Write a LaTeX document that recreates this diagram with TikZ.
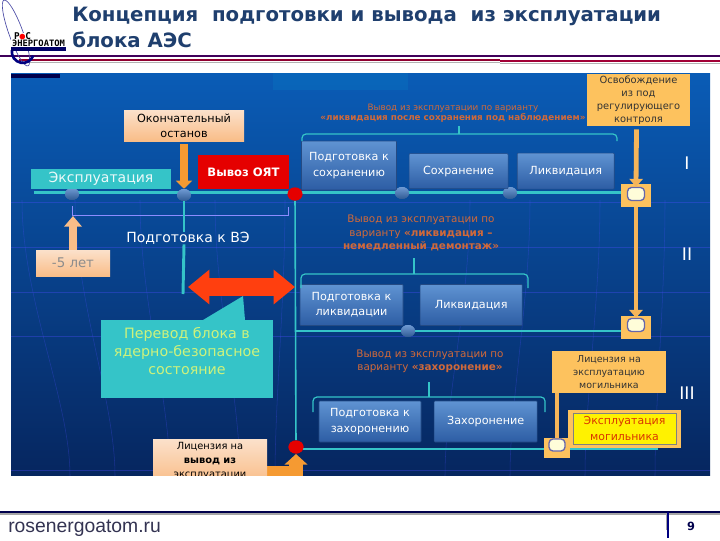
\documentclass[tikz,border=0pt]{standalone}
\usepackage{fontspec}
\usepackage{xcolor}
\setmainfont{DejaVu Sans}
\newfontfamily\footfont{Liberation Sans}
\newfontfamily\logofont{DejaVu Sans Mono}
\usetikzlibrary{arrows.meta,positioning,shapes.geometric}
\definecolor{titleblue}{HTML}{1F3F6E}
\definecolor{tealbar}{HTML}{35C4C8}
\definecolor{peach}{HTML}{F8C8A0}
\definecolor{amberbox}{HTML}{FDC25E}
\definecolor{amberline}{HTML}{F5B55A}
\definecolor{rust}{HTML}{D0693A}
\definecolor{limetext}{HTML}{CDF27C}
\definecolor{orangearr}{HTML}{F59A32}
\definecolor{paneltop}{HTML}{0A5CB6}
\definecolor{panelmid}{HTML}{0A4792}
\definecolor{panelbot}{HTML}{06265F}
\definecolor{stagetop}{HTML}{5F93D2}
\definecolor{stagemid}{HTML}{3F76BC}
\definecolor{stagebot}{HTML}{2D5DA4}
\definecolor{dotblue}{HTML}{3F78C4}
\definecolor{redarrow}{HTML}{FF3F0F}

\begin{document}
\begin{tikzpicture}[
  x=0.75pt, y=-0.75pt,
  sz/.style 2 args={minimum width=#1*0.75pt, minimum height=#2*0.75pt, inner sep=0pt},
  stage/.style={rounded corners=0.6pt, align=center, text=white, font=\fontsize{8.4}{11.5}\selectfont,
    top color=stagetop, middle color=stagemid, bottom color=stagebot,
    draw=stagebot!80!black, line width=0.4pt},
  peachbox/.style={align=center, text=black, font=\fontsize{8.4}{11.4}\selectfont,
    top color=peach!55!white, bottom color=peach!85!orange},
  amber/.style={align=center, fill=amberbox, text=black!80, font=\fontsize{7.4}{9.8}\selectfont},
  note/.style={align=center, text=rust, font=\fontsize{6.6}{7.6}\selectfont},
  dot/.style={ellipse, sz={14}{12}, top color=dotblue!75!white, bottom color=dotblue!75!black},
  reddot/.style={ellipse, sz={15}{13}, fill=red!90!black},
  gate/.style={fill=amberbox, sz={30}{23}},
  gatemark/.style={rounded corners=3pt, sz={17}{13}, fill=yellow!15, draw=black!55!blue!60, line width=1pt},
  tline/.style={tealbar, line width=2.6pt},
  thinline/.style={tealbar, line width=1.2pt},
  brace/.style={tealbar, line width=0.9pt, rounded corners=3pt},
  tick/.style={tealbar, line width=1pt},
  amberpipe/.style={amberline, line width=3.6pt},
  roman/.style={text=white, font=\fontsize{13}{13}\selectfont}
]
\useasboundingbox (0,0) rectangle (720,540);
\fill[white] (0,0) rectangle (720,540);
\shade[top color=paneltop, middle color=panelmid, bottom color=panelbot]
  (11,73) rectangle (710,476);
\fill[paneltop!80!cyan, opacity=.3] (273,73) rectangle (408,90);
\foreach \yy in {202,247,292,336,470}
  \draw[white!30!blue, opacity=.35, line width=0.4pt] (11,\yy) -- (710,\yy);
\foreach \xa/\xb in {22/70,75/115,140/170,215/240,285/275,470/445,530/510,600/585,665/655}
  \draw[white!30!blue, opacity=.3, line width=0.4pt] (\xa,200) .. controls (\xa,300) and (\xb,400) .. (\xb,476);
\fill[blue!30!black] (11,74) rectangle (60,78);

% header
\draw[blue!45!purple!60!black, line width=1.1pt] (0,56) -- (720,56);
\draw[purple!75!black, line width=1pt] (19,60) -- (500,60);
\draw[black!30, line width=1pt] (19,62.5) -- (500,62.5);
\draw[purple!85!black, line width=1.4pt] (500,61) -- (720,61);
\draw[black!30, line width=1pt] (500,63.5) -- (720,63.5);
\node[anchor=north west, inner sep=0pt, align=left, text=titleblue, font=\fontsize{14.8}{19.5}\bfseries\selectfont] (title) at (72,6.5)
  {Концепция\ \ подготовки и вывода\ \ из эксплуатации\\блока АЭС};

% logo
\draw[blue!50!black!70, line width=0.5pt, rotate around={20:(16,33)}] (16,33) ellipse (7 and 35);
\draw[blue!50!black, line width=2pt] (12,50) arc[start angle=190, end angle=20, radius=11];
\fill[white] (11,33) rectangle (67,51);
\node[inner sep=0pt, font=\fontsize{7}{7}\logofont\bfseries\selectfont] (logoros) at (22.5,36) {Р\textcolor{red}{●}С};
\node[inner sep=0pt, font=\fontsize{6.6}{7}\logofont\bfseries\selectfont] (logoname) at (38.5,43.5) {ЭНЕРГОАТОМ};
\fill[blue!40!black] (11,47) rectangle (66,50.5);

% timeline
\coordinate (tstart) at (34,192.5);
\coordinate (tend) at (658,449);
\node[dot] (d1) at (72,194) {};
\node[dot] (d2) at (184,195) {};
\node[reddot] (r1) at (295,194) {};
\node[dot] (d3) at (402,193) {};
\node[dot] (d4) at (510,193) {};
\node[reddot] (r2) at (296,447) {};
\node[dot] (d5) at (408,331) {};
\draw[tline] (tstart) -- (tstart -| d1) -- (tstart -| d2) -- (tstart -| r1) -- (tstart -| d3) -- (tstart -| d4) -- (tstart -| 636,0);
\draw[thinline] (r1) -- (r2);
\draw[thinline] (r1 |- d5) -- (d5) -- (636,0 |- d5);
\draw[thinline] (r2 |- tend) -- (tend);
\node[gate] (g1) at (636,195.5) {};
\node[gate] (g2) at (636,327) {};
\node[gate, sz={26}{20}] (g3) at (557,447.5) {};
\node[dot] at (d1) {};
\node[dot] at (d2) {};
\node[reddot] at (r1) {};
\node[dot] at (d3) {};
\node[dot] at (d4) {};
\node[dot] at (d5) {};
\node[reddot] at (r2) {};

% left part
\node[peachbox, sz={120}{31}] (ostanov) at (184,125.5) {Окончательный\\останов};
\node[fill=tealbar, sz={140}{20}, text=white!90!tealbar, font=\fontsize{10.5}{11}\selectfont] (expl) at (101,179) {Эксплуатация};
\node[fill=red!90!black, sz={91}{34}, text=white, font=\fontsize{8.7}{11}\bfseries\selectfont] (oyat) at (243.5,172) {Вывоз ОЯТ};
\draw[-{Triangle[width=12pt,length=6pt]}, orangearr, line width=6.6pt] (ostanov.south) ++(0,3) -- (d2.north);
\node[peachbox, sz={74}{26}, text=black!45, font=\fontsize{10}{10}\selectfont] (years) at (73,263) {-5 лет};
\draw[-{Triangle[width=13pt,length=8pt]}, peach!85!orange, line width=6.6pt] (years.north) -- (73,216);
\draw[white!55!blue, line width=0.4pt] (72,206) -- (72,215) -- (288,215) -- (288,207);
\node[text=white, inner sep=0pt, font=\fontsize{10.5}{10.5}\selectfont] (ve) at (188,238) {Подготовка к ВЭ};
\coordinate (vebot) at (183,294);
\draw[thinline, line width=2.2pt] (d2) -- (ve.north -| d2);
\draw[thinline, line width=2.2pt] (ve.south -| d2) -- (vebot);
\coordinate (safeL) at (188,287);
\coordinate (safeR) at (295,287);
\draw[{Triangle[width=25pt,length=16pt]}-{Triangle[width=25pt,length=16pt]}, redarrow, line width=13.5pt] (safeL) -- (safeR);
\fill[tealbar] (203,320) -- (243,296) -- (245,320) -- cycle;
\node[fill=tealbar, sz={172}{78}] (safe) at (187,359) {};
\node[align=center, text=limetext, inner sep=0pt, font=\fontsize{10.7}{13.2}\selectfont] (safetext) at (187,351)
  {Перевод блока в\\ядерно-безопасное\\состояние};

% licence
\coordinate (licturn) at (296,473);
\draw[-{Triangle[width=17pt,length=8pt]}, orangearr, line width=10pt, line join=miter] (267,473) -- (licturn) -- (r2 |- 0,454);
\node[peachbox, sz={114}{44}, font=\fontsize{7.4}{10.2}\selectfont] (lic) at (210,461) {Лицензия на\\\textbf{вывод из}\\эксплуатации};
\fill[white] (0,476.3) rectangle (720,505);

% branch I
\node[stage, sz={95}{49}] (prepsave) at (349,165.5) {Подготовка к\\сохранению};
\node[stage, sz={99}{35}, right=9pt of prepsave.south east, anchor=south west, yshift=1pt] (save) {Сохранение};
\node[stage, sz={97}{36}, right=6.5pt of save] (liq1) {Ликвидация};
\coordinate (br1top) at (459,126);
\draw[brace] (302,141) -- (302,134) -- (617,134) -- (617,141);
\draw[tick] (br1top) -- (459,134);
\node[note] (n1) at (453,113) {Вывод из эксплуатации по варианту\\\textbf{«ликвидация после сохранения под наблюдением»}};
\node[amber, sz={103}{52}] (release) at (638.5,100) {Освобождение\\из под\\регулирующего\\контроля};
\node[gatemark] (m1) at (636,194) {};
\node[gatemark] (m2) at (636,325) {};
\draw[-{Triangle[width=10pt,length=6pt]}, amberpipe] (release.south) ++(-2,3) -- (m1.north);
\draw[-{Triangle[width=10pt,length=6pt]}, amberpipe] (g1.south) -- (m2.north);
\node[roman] (rI) at (687,163) {I};

% branch II
\node[note, font=\fontsize{7.8}{10}\selectfont] (n2) at (421,233) {Вывод из эксплуатации по\\варианту \textbf{«ликвидация –}\\\textbf{немедленный демонтаж»}};
\node[stage, sz={103}{41}] (prepliq) at (351.5,305) {Подготовка к\\ликвидации};
\node[stage, sz={102}{41}, right=12.5pt of prepliq] (liq2) {Ликвидация};
\coordinate (br2top) at (414,258);
\draw[brace] (301,288) -- (301,274) -- (528,274) -- (528,288);
\draw[tick] (br2top) -- (414,274);
\node[roman] (rII) at (687,254) {II};

% branch III
\node[note, font=\fontsize{7.8}{9.7}\selectfont] (n3) at (430,361.5) {Вывод из эксплуатации по\\варианту \textbf{«захоронение»}};
\node[stage, sz={102}{41}] (prepbury) at (370,421.5) {Подготовка к\\захоронению};
\node[stage, sz={103}{41}, right=9.5pt of prepbury] (bury) {Захоронение};
\coordinate (br3top) at (429,382);
\draw[brace] (313,412) -- (313,397) -- (545,397) -- (545,412);
\draw[tick] (br3top) -- (429,397);
\node[amber, sz={114}{42}, font=\fontsize{7.1}{10}\selectfont] (wastelic) at (609,372) {Лицензия на\\эксплуатацию\\могильника};
\draw[amberpipe] (wastelic.south -| g3) -- (g3.center);
\node[gatemark, sz={16}{12}] (m3) at (557,445) {};
\node[fill=amberbox, sz={113}{38}] (wasteout) at (624.5,429) {};
\node[fill=yellow, draw=black!50, line width=0.4pt, sz={103}{31}, align=center, text=orange!50!red!85!black, font=\fontsize{8.2}{11.5}\selectfont] (waste) at (624.5,428.5) {Эксплуатация\\могильника};
\node[roman] (rIII) at (687,393) {III};

% footer
\draw[blue!30!black, line width=0.8pt] (0,512) -- (720,512);
\draw[black!35, line width=1pt] (0,514) -- (720,514);
\draw[blue!50!black, line width=1.2pt] (668,512) -- (668,538);
\draw[black!35, line width=1pt] (666.5,513) -- (666.5,530);
\node[anchor=base west, inner sep=0pt, text=blue!15!black!80, font=\fontsize{14.5}{14.5}\footfont\selectfont] (site) at (8,532) {rosenergoatom.ru};
\node[inner sep=0pt, text=blue!30!black, font=\fontsize{8.5}{9}\bfseries\selectfont] (page) at (691,526) {9};
\end{tikzpicture}
\end{document}
